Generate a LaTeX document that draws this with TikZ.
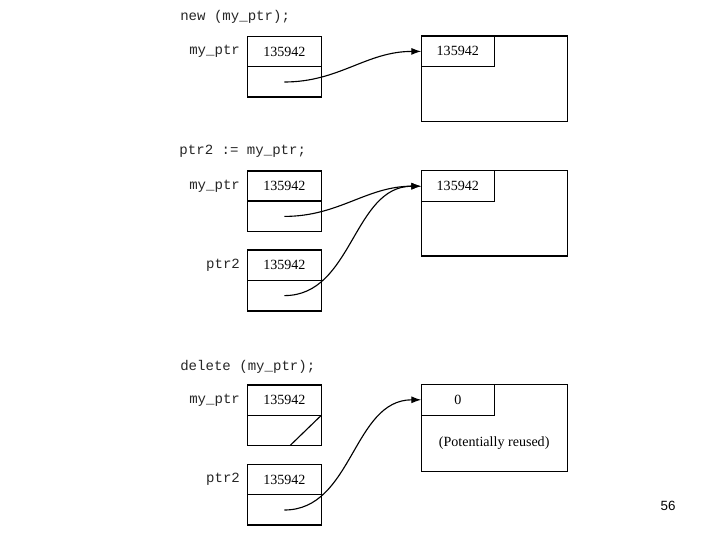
\documentclass[tikz,border=0pt]{standalone}
\usepackage{fontspec}
\setmainfont{Liberation Serif}
\setsansfont{Liberation Sans}
\setmonofont{Liberation Mono}
\usetikzlibrary{positioning,arrows.meta,calc}

\begin{document}
\begin{tikzpicture}[
    >={Latex[length=7pt,width=5pt]},
    code/.style={
        font=\fontsize{10}{12}\selectfont\ttfamily,
        text=black!85, anchor=west, inner sep=0pt
    },
    vname/.style={
        font=\fontsize{10}{12}\selectfont\ttfamily,
        text=black!85, inner sep=0pt
    },
    cell/.style={
        draw=black, line width=0.5pt,
        minimum width=1.85cm, minimum height=0.76cm,
        inner sep=0pt, outer sep=0pt,
        font=\fontsize{10}{12}\selectfont
    },
    heap/.style={
        draw=black, line width=0.9pt,
        minimum width=3.65cm, minimum height=2.13cm,
        anchor=north west, inner sep=0pt, outer sep=0pt
    },
    heapval/.style={
        draw=black, line width=0.8pt,
        minimum width=1.83cm, minimum height=0.77cm,
        anchor=north west, inner sep=0pt, outer sep=0pt,
        font=\fontsize{10}{12}\selectfont
    },
    ptrframe/.style={line width=1.1pt},
    ptrlink/.style={->, line width=0.8pt, out=0, in=180}
]
\useasboundingbox (0,0) rectangle (18,-13.5);

\node[code] (c1) at (4.5,-0.43) {new (my\_ptr);};
\node[cell] (p1a) at (7.11,-1.29) {135942};
\node[cell, anchor=north] (p1b) at (p1a.south) {};
\draw[ptrframe] (p1a.north west) rectangle (p1b.south east);
\node[vname, left=0.18cm of p1a] (n1) {my\_ptr};
\node[heap] (h1) at (10.53,-0.9) {};
\node[heapval] (h1v) at (h1.north west) {135942};
\draw[ptrlink] (p1b.center) to (h1v.west);

\node[code] (c2) at (4.48,-3.79) {ptr2 := my\_ptr;};
\node[cell] (p2a) at (7.11,-4.65) {135942};
\node[cell, anchor=north] (p2b) at (p2a.south) {};
\draw[ptrframe] (p2a.north west) rectangle (p2b.south east);
\draw[ptrframe] (p2b.north west) -- (p2b.north east);
\node[vname, left=0.18cm of p2a] (n2) {my\_ptr};
\node[cell] (q2a) at (7.11,-6.63) {135942};
\node[cell, anchor=north] (q2b) at (q2a.south) {};
\draw[ptrframe] (q2a.north west) rectangle (q2b.south east);
\node[vname, left=0.18cm of q2a] (m2) {ptr2};
\node[heap] (h2) at (10.53,-4.27) {};
\node[heapval] (h2v) at (h2.north west) {135942};
\draw[ptrlink] (p2b.center) to (h2v.west);
\draw[ptrlink] (q2b.center) to (h2v.west);

\node[code] (c3) at (4.5,-9.18) {delete (my\_ptr);};
\node[cell] (p3a) at (7.11,-10.0) {135942};
\node[cell, anchor=north] (p3b) at (p3a.south) {};
\draw[ptrframe] (p3a.north west) rectangle (p3b.south east);
\draw[line width=0.8pt] ($(p3b.south)+(0.14,0)$) -- (p3b.north east);
\node[vname, left=0.18cm of p3a] (n3) {my\_ptr};
\node[cell] (q3a) at (7.11,-11.99) {135942};
\node[cell, anchor=north] (q3b) at (q3a.south) {};
\draw[ptrframe] (q3a.north west) rectangle (q3b.south east);
\node[vname, left=0.18cm of q3a] (m3) {ptr2};
\node[heap, minimum height=2.17cm] (h3) at (10.53,-9.61) {};
\node[heapval] (h3v) at (h3.north west) {0};
\node[font=\fontsize{10}{12}\selectfont] (reuse) at ($(h3.south)+(0,0.7)$)
    {(Potentially reused)};
\draw[ptrlink] (q3b.center) to (h3v.west);

\node[font=\fontsize{9.5}{11}\selectfont\sffamily] (pgno) at (16.7,-12.65) {56};

\end{tikzpicture}
\end{document}
